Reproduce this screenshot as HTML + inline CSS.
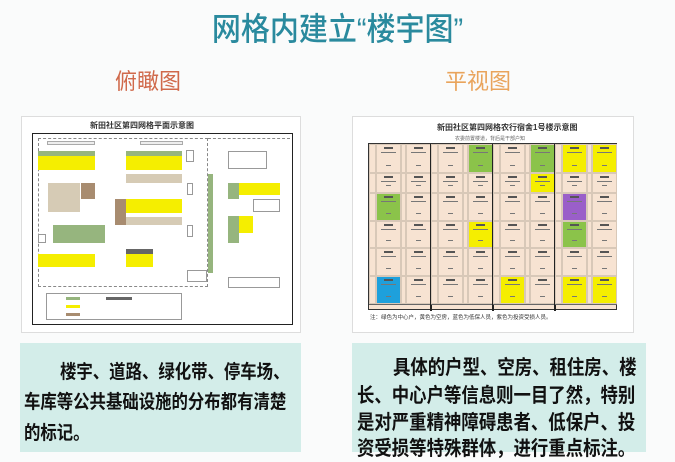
<!DOCTYPE html>
<html><head><meta charset="utf-8"><style>
body{margin:0;width:675px;height:452px;background:#fafbfb;position:relative;overflow:hidden;font-family:"Liberation Sans","Noto Sans CJK SC",sans-serif}
.a{position:absolute;box-sizing:border-box}
.t{position:absolute;white-space:nowrap}
.y{background:#f5ee00}.g{background:#96b57e}.b{background:#d6cbb5}.br{background:#a88c70}.w{background:#fff;border:1px solid #999}
.tx{position:absolute;font-weight:bold;color:#111;white-space:nowrap;transform-origin:0 0;transform:scaleY(1.15)}
.l{font-size:16.4px}.r{font-size:17.4px}
</style></head><body>
<div class="t" style="left:0;width:675px;text-align:center;top:6px;font-size:29px;color:#2a8a9e;font-weight:500;transform:scaleY(1.1)">网格内建立“楼宇图”</div>
<div class="t" style="left:115px;top:64px;font-size:22px;color:#d0694b">俯瞰图</div>
<div class="t" style="left:445px;top:64px;font-size:22px;color:#e9a45c">平视图</div>

<div class="a" style="left:21px;top:116px;width:280px;height:217px;background:#fff;border:1px solid #ddd"></div>
<div class="t" style="left:90px;top:120px;font-size:8px;font-weight:bold;color:#333">新田社区第四网格平面示意图</div>
<div class="a" style="left:32px;top:133px;width:261px;height:192px;border:1.5px solid #222;background:#fff"></div>
<div class="a" style="left:38px;top:138px;width:170px;height:149px;border:1px dashed #888"></div>
<div class="a" style="left:208px;top:138px;width:82px;height:1px;border-top:1px dashed #888"></div>
<div class="a" style="left:47px;top:141px;width:48px;height:4px;border:1px solid #aaa;background:#eee"></div>
<div class="a" style="left:140px;top:141px;width:43px;height:4px;border:1px solid #aaa;background:#eee"></div>
<div class="a g" style="left:38px;top:151px;width:57px;height:5px"></div>
<div class="a y" style="left:38px;top:156px;width:57px;height:14px"></div>
<div class="a g" style="left:126px;top:151px;width:56px;height:5px"></div>
<div class="a y" style="left:126px;top:156px;width:56px;height:14px"></div>
<div class="a b" style="left:126px;top:174px;width:56px;height:9px"></div>
<div class="a b" style="left:48px;top:183px;width:32px;height:29px"></div>
<div class="a br" style="left:81px;top:183px;width:14px;height:16px"></div>
<div class="a br" style="left:115px;top:199px;width:11px;height:26px"></div>
<div class="a y" style="left:126px;top:199px;width:56px;height:14px"></div>
<div class="a b" style="left:126px;top:217px;width:56px;height:8px"></div>
<div class="a g" style="left:53px;top:225px;width:52px;height:18px"></div>
<div class="a y" style="left:38px;top:254px;width:57px;height:13px"></div>
<div class="a" style="left:126px;top:249px;width:27px;height:5px;background:#666"></div>
<div class="a y" style="left:126px;top:254px;width:27px;height:13px"></div>
<div class="a g" style="left:208px;top:174px;width:5px;height:99px"></div>
<div class="a w" style="left:186px;top:150px;width:8px;height:12px"></div>
<div class="a w" style="left:187px;top:183px;width:6px;height:12px"></div>
<div class="a w" style="left:187px;top:225px;width:6px;height:12px"></div>
<div class="a w" style="left:38px;top:234px;width:8px;height:9px"></div>
<div class="a w" style="left:187px;top:270px;width:20px;height:12px"></div>
<div class="a w" style="left:228px;top:151px;width:39px;height:18px"></div>
<div class="a g" style="left:228px;top:183px;width:11px;height:16px"></div>
<div class="a y" style="left:239px;top:183px;width:41px;height:12px"></div>
<div class="a w" style="left:253px;top:199px;width:27px;height:13px"></div>
<div class="a g" style="left:228px;top:216px;width:11px;height:27px"></div>
<div class="a y" style="left:239px;top:216px;width:14px;height:17px"></div>
<div class="a w" style="left:228px;top:277px;width:52px;height:11px"></div>
<div class="a" style="left:46px;top:293px;width:136px;height:27px;border:1px solid #999"></div>
<div class="a g" style="left:66px;top:297px;width:14px;height:3px"></div>
<div class="a y" style="left:66px;top:305px;width:14px;height:3px"></div>
<div class="a br" style="left:66px;top:313px;width:14px;height:3px"></div>
<div class="a" style="left:106px;top:297px;width:26px;height:3px;background:#666"></div>

<div class="a" style="left:352px;top:116px;width:282px;height:217px;background:#fff;border:1px solid #ddd"></div>
<div class="t" style="left:437px;top:122px;font-size:8px;font-weight:bold;color:#333">新田社区第四网格农行宿舍1号楼示意图</div>
<div class="t" style="left:455px;top:135px;font-size:5px;color:#666">农委前置楼道，背后是干部户知</div>
<div id="tb" class="a" style="left:368px;top:143px;width:249px;height:167px;border:1px solid #333;background:#f7e3d2"></div>
<div class="t" style="left:370px;top:313px;font-size:5.5px;color:#333">注：绿色为中心户，黄色为空房，蓝色为低保人员，紫色为投资受损人员。</div>

<div class="a" style="left:20px;top:343px;width:281px;height:109px;background:#d3ede9"></div>
<div class="a" style="left:352px;top:343px;width:294px;height:109px;background:#d3ede9"></div>
<div class="tx l" style="left:60px;top:356px">楼宇、道路、绿化带、停车场、</div>
<div class="tx l" style="left:24px;top:386px">车库等公共基础设施的分布都有清楚</div>
<div class="tx l" style="left:24px;top:417px">的标记。</div>
<div class="tx r" style="left:393px;top:352px">具体的户型、空房、租住房、楼</div>
<div class="tx r" style="left:357px;top:380px">长、中心户等信息则一目了然，特别</div>
<div class="tx r" style="left:357px;top:407px">是对严重精神障碍患者、低保户、投</div>
<div class="tx r" style="left:357px;top:433px">资受损等特殊群体，进行重点标注。</div>
<script>
var tb=document.getElementById('tb');
var rows=[0,29,49,77,104,132,160];
var col={'1,0,2':'#8bc34a','2,0,2':'#8bc34a','0,2,0':'#8bc34a','3,0,0':'#f5ee00','3,0,2':'#f5ee00','2,1,2':'#f5ee00','1,3,2':'#f5ee00','2,5,0':'#f5ee00','3,5,0':'#f5ee00','3,5,2':'#f5ee00','3,2,0':'#9a5fc9','3,3,0':'#8bc34a','0,5,0':'#1ea0dc'};
var h='';
for(var b=0;b<4;b++){var bx=b*62;
 if(b>0)h+='<div class="a" style="left:'+(bx-1)+'px;top:0;width:2px;height:167px;background:#222"></div>';
 for(var r=0;r<6;r++){var y=rows[r],hh=rows[r+1]-y;
  [[7,0],[37,2]].forEach(function(c){var k=b+','+r+','+c[1];var bg=col[k]||'#f7e3d2';
   h+='<div class="a" style="left:'+(bx+c[0])+'px;top:'+y+'px;width:25px;height:'+hh+'px;background:'+bg+';border:0.5px solid #d8c8b8"></div>';
   h+='<div class="a" style="left:'+(bx+c[0]+8)+'px;top:'+(y+3)+'px;width:9px;height:2px;background:#555"></div>';
   h+='<div class="a" style="left:'+(bx+c[0]+5)+'px;top:'+(y+8)+'px;width:15px;height:1px;background:#777"></div>';
   h+='<div class="a" style="left:'+(bx+c[0]+10)+'px;top:'+(y+hh-8)+'px;width:5px;height:1px;background:#777"></div>';
  });
  h+='<div class="a" style="left:'+(bx)+'px;top:'+y+'px;width:7px;height:'+hh+'px;border:0.5px solid #d8c8b8"></div>';
  h+='<div class="a" style="left:'+(bx+32)+'px;top:'+y+'px;width:5px;height:'+hh+'px;border:0.5px solid #d8c8b8"></div>';
 }
 h+='<div class="a" style="left:'+bx+'px;top:160px;width:62px;height:7px;border-top:1px solid #666"></div>';
}
tb.innerHTML=h;
</script>
</body></html>
